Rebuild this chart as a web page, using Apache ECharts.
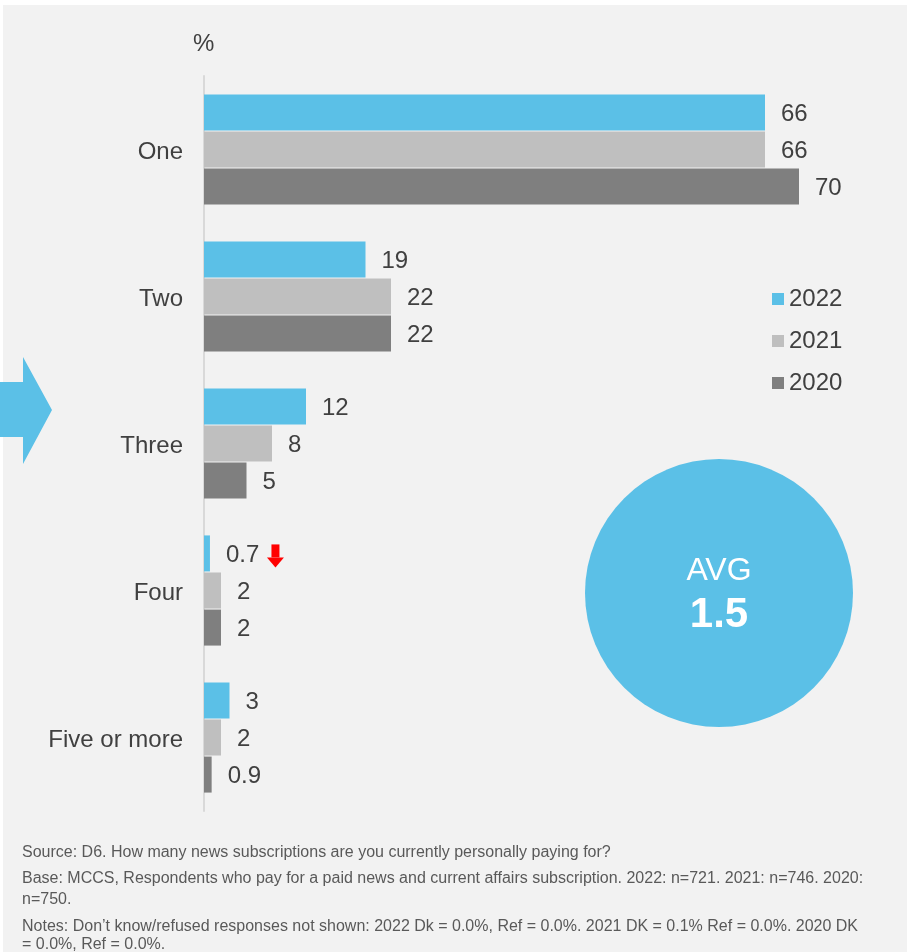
<!DOCTYPE html>
<html>
<head>
<meta charset="utf-8">
<script src="https://cdn.jsdelivr.net/npm/echarts@6/dist/echarts.min.js"></script>
<style>
  html, body { margin: 0; padding: 0; background: #ffffff; }
  #chart { width: 907px; height: 952px; }
</style>
</head>
<body>
<div id="chart"></div>
<script>
// Number of paid news subscriptions, by survey year (%)
const categories = ['One', 'Two', 'Three', 'Four', 'Five or more'];
const years = ['2022', '2021', '2020'];
const values2022 = [66, 19, 12, 0.7, 3];
const values2021 = [66, 22, 8, 2, 2];
const values2020 = [70, 22, 5, 2, 0.9];
const averageLabel = 'AVG';
const averageValue = '1.5';
const footnotes = [
  'Source: D6. How many news subscriptions are you currently personally paying for?',
  'Base: MCCS, Respondents who pay for a paid news and current affairs subscription. 2022: n=721. 2021: n=746. 2020:',
  'n=750.',
  'Notes: Don\u2019t know/refused responses not shown: 2022 Dk = 0.0%, Ref = 0.0%. 2021 DK = 0.1% Ref = 0.0%. 2020 DK',
  '= 0.0%, Ref = 0.0%.'
];

const colors = ['#5bc0e7', '#bfbfbf', '#7f7f7f'];
const textColor = '#404040';
const font = '"Liberation Sans", Arial, sans-serif';

const seriesValues = [values2022, values2021, values2020];
const footY = [853, 879, 900, 927, 945];

const chart = echarts.init(document.getElementById('chart'), null, { renderer: 'canvas' });

const option = {
  backgroundColor: '#ffffff',
  animation: false,
  textStyle: { fontFamily: font },
  color: colors,
  grid: { left: 204, top: 76, width: 680, height: 735, containLabel: false },
  xAxis: { type: 'value', min: 0, max: 80, show: false },
  yAxis: {
    type: 'category',
    data: categories,
    inverse: true,
    axisLine: { show: true, lineStyle: { color: '#d9d9d9', width: 2 } },
    axisTick: { show: false },
    axisLabel: {
      margin: 21,
      formatter: '{c|{value}}',
      rich: { c: { color: textColor, fontSize: 24, fontFamily: font, padding: [6, 0, 0, 0] } }
    }
  },
  legend: {
    orient: 'vertical',
    left: 767,
    top: 282,
    itemWidth: 12,
    itemHeight: 12,
    itemGap: 18,
    itemTextGap: 6,
    icon: 'rect',
    textStyle: { color: textColor, fontSize: 24, fontFamily: font },
    data: years
  },
  series: years.map((y, i) => ({
    name: y,
    type: 'bar',
    data: seriesValues[i],
    barWidth: 36,
    barGap: '3%',
    itemStyle: { color: colors[i] },
    label: {
      show: true,
      position: 'right',
      distance: 16,
      offset: [0, 2],
      color: textColor,
      fontSize: 24,
      fontFamily: font
    }
  })),
  graphic: [
    { type: 'rect', z: -10, silent: true, shape: { x: 3, y: 5, width: 904, height: 947 }, style: { fill: '#f2f2f2' } },
    { type: 'text', left: 193, top: 32, style: { text: '%', fill: textColor, font: '24px ' + font } },
    // highlight arrow on the left edge
    { type: 'polygon', shape: { points: [[0, 382], [23, 382], [23, 357], [52, 410], [23, 464], [23, 437], [0, 437]] }, style: { fill: colors[0] } },
    // average bubble
    { type: 'circle', shape: { cx: 719, cy: 593, r: 134 }, style: { fill: colors[0] } },
    { type: 'text', x: 719, y: 571, style: { text: averageLabel, fill: '#ffffff', font: '32px ' + font, textAlign: 'center', textVerticalAlign: 'middle' } },
    { type: 'text', x: 719, y: 615, style: { text: averageValue, fill: '#ffffff', font: 'bold 42px ' + font, textAlign: 'center', textVerticalAlign: 'middle' } }
  ].concat(footnotes.map((t, i) => ({
    type: 'text', x: 22, y: footY[i],
    style: { text: t, fill: '#595959', font: '16px ' + font, textVerticalAlign: 'middle' }
  })))
};

chart.setOption(option);

// Red "significant decrease" arrow next to the 2022 label of the "Four" bar
(function addDecreaseArrow() {
  let layout = null;
  try {
    layout = chart.getModel().getSeriesByIndex(0).getData().getItemLayout(3);
  } catch (e) { layout = null; }
  let left, top;
  if (layout) {
    left = layout.x + layout.width + 57;
    top = layout.y + layout.height / 2 - 9;
  } else {
    const p = chart.convertToPixel({ seriesIndex: 0 }, [values2022[3], 3]);
    left = p[0] + 57;
    top = p[1] - 46;
  }
  chart.setOption({
    graphic: option.graphic.concat([{
      type: 'group', x: left, y: top,
      children: [
        { type: 'rect', shape: { x: 4.5, y: 0, width: 8, height: 13 }, style: { fill: '#ff0000' } },
        { type: 'polygon', shape: { points: [[0, 13], [17, 13], [8.5, 23]] }, style: { fill: '#ff0000' } }
      ]
    }])
  });
})();
</script>
</body>
</html>
